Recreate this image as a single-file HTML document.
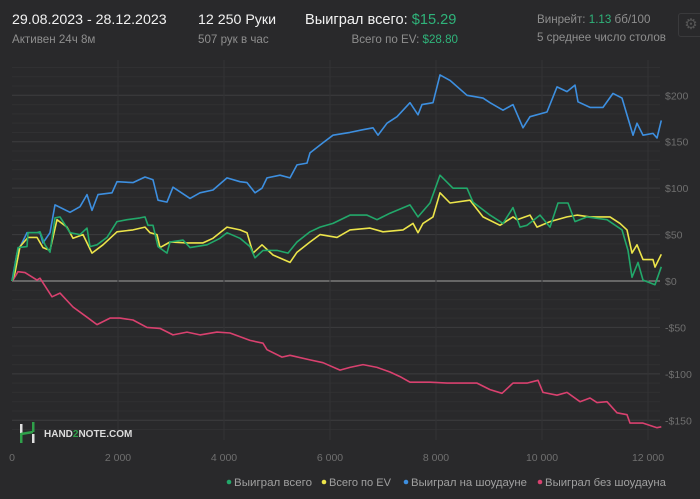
<!DOCTYPE html>
<html><head><meta charset="utf-8">
<style>
body{margin:0;background:#29292b;width:700px;height:499px;overflow:hidden;font-family:"Liberation Sans",sans-serif;}
.t{position:absolute;white-space:nowrap;}
.w{color:#f2f2f2;font-size:14.2px;}
.g{color:#8e8e8e;font-size:11.6px;}
.gr{color:#2fb37a;}
</style></head><body>
<div style="position:absolute;left:0;top:0;width:700px;height:58px;">
<div class="t w" style="left:12px;top:12px;">29.08.2023 - 28.12.2023</div>
<div class="t g" style="left:12px;top:33px;">Активен 24ч 8м</div>
<div class="t w" style="left:198px;top:12px;">12 250 Руки</div>
<div class="t g" style="left:198px;top:33px;">507 рук в час</div>
<div class="t w" style="left:305px;top:12px;font-size:14.6px;">Выиграл всего: <span class="gr">$15.29</span></div>
<div class="t g" style="right:242px;top:33px;">Всего по EV: <span class="gr">$28.80</span></div>
<div class="t g" style="left:537px;top:13px;">Винрейт: <span class="gr">1.13</span> бб/100</div>
<div class="t g" style="left:537px;top:31px;">5 среднее число столов</div>
<div style="position:absolute;left:678px;top:13px;width:24px;height:22px;border:1px solid #3a3a3c;border-radius:3px;color:#555;font-size:15px;text-align:center;line-height:22px;">⚙</div>
</div>
<svg id="chart" width="700" height="499" style="position:absolute;left:0;top:0;"></svg>
<script>
const hBlue=[0,94,283,528,585,717,811,1094,1283,1415,1509,1623,1887,1981,2283,2509,2660,2755,2925,3038,3358,3547,3792,4057,4302,4434,4585,4717,4811,5057,5245,5377,5566,5623,5868,6057,6377,6623,6811,6906,7075,7264,7509,7660,7736,7943,8075,8264,8585,8887,9019,9264,9453,9642,9774,10094,10283,10472,10623,10679,10906,11151,11340,11509,11660,11717,11792,11906,12094,12170,12250];
const vBlue=[0,30,52,52,41,52,82,74,80,93,76,93,95,107,106,112,109,87,85,101,89,95,98,111,107,106,95,100,111,114,111,125,127,138,149,157,160,163,165,157,170,177,192,179,190,192,222,216,200,197,192,184,190,165,177,182,209,204,211,193,187,187,202,197,168,157,170,157,159,154,173];
const hGreen=[0,19,113,283,302,472,528,623,717,811,906,1094,1283,1415,1472,1604,1792,1981,2170,2415,2509,2566,2660,2755,2925,2981,3226,3358,3679,3925,4057,4302,4491,4585,4736,5000,5208,5377,5623,5811,6057,6377,6698,6887,7132,7509,7660,7887,8075,8321,8585,8698,9019,9264,9453,9585,9717,9962,10151,10302,10491,10623,10849,11226,11509,11623,11698,11811,11906,12132,12250];
const vGreen=[0,4,36,37,52,52,53,39,31,68,69,52,50,57,37,39,47,64,66,68,69,60,60,37,30,42,44,36,39,46,52,46,37,25,33,33,30,42,53,58,62,71,71,66,73,82,69,84,114,100,100,85,71,62,79,58,60,71,58,84,84,64,69,66,55,33,4,20,1,-4,15.29];
const hYellow=[0,57,151,302,472,585,717,849,1038,1151,1340,1509,1717,1981,2283,2509,2604,2736,2792,2981,3302,3604,3792,4057,4302,4434,4547,4717,4925,5245,5377,5623,5811,6132,6377,6755,7000,7377,7566,7660,7755,7943,8075,8264,8642,8887,9208,9453,9528,9774,9906,10151,10472,10660,10906,11283,11472,11604,11698,11792,11906,12094,12132,12250];
const vYellow=[0,9,37,47,47,36,33,66,58,46,50,30,39,53,55,58,52,50,36,42,41,41,46,58,55,52,30,39,28,20,31,42,50,47,55,57,53,55,62,52,62,69,95,84,87,69,60,69,66,71,58,64,69,71,69,69,62,55,30,39,23,23,15,28.8];
const hRed=[0,19,113,245,472,528,755,906,1151,1415,1604,1849,2038,2283,2547,2792,3038,3302,3547,3868,4113,4491,4736,4811,5094,5245,5623,5868,6189,6377,6623,6887,7132,7321,7509,7887,8208,8509,8774,9019,9245,9453,9717,9925,10019,10283,10472,10717,10906,11038,11226,11415,11604,11660,11906,12170,12250];
const vRed=[0,1,10,9,1,3,-17,-13,-28,-39,-47,-40,-40,-42,-50,-51,-58,-55,-58,-55,-56,-64,-67,-74,-82,-80,-85,-88,-96,-93,-90,-93,-98,-103,-109,-109,-110,-110,-110,-117,-121,-110,-110,-107,-120,-123,-120,-130,-126,-131,-130,-142,-144,-153,-153,-158,-157];
const xTicks=[0,2000,4000,6000,8000,10000,12000];
const xTickLabels=["0","2 000","4 000","6 000","8 000","10 000","12 000"];
const yTicks=[-150,-100,-50,0,50,100,150,200];
const yTickLabels=["-$150","-$100","-$50","$0","$50","$100","$150","$200"];
const legendNames=["Выиграл всего","Всего по EV","Выиграл на шоудауне","Выиграл без шоудауна"];

const NS="http://www.w3.org/2000/svg";
const svg=document.getElementById('chart');
const X=h=>12+h*0.053;
const Y=v=>281-v*0.9285;
function mk(tag,attrs,parent){const e=document.createElementNS(NS,tag);for(const k in attrs)e.setAttribute(k,attrs[k]);(parent||svg).appendChild(e);return e;}
for(let v=-160;v<=230;v+=10){
  const major=v%50===0;
  const l=mk('line',{x1:12,x2:660,y1:Y(v),y2:Y(v),stroke:v===0?'#8a8a8a':(major?'#3d3d3f':'#303032'),'stroke-width':v===0?1.2:1});
  
  
}
xTicks.forEach((t,i)=>{
  if(i>0){const l=mk('line',{x1:X(t),x2:X(t),y1:60,y2:440,stroke:'#333335'});
  
  }
  const tx=mk('text',{x:X(t),y:461,fill:'#6f6f6f','font-size':10.5,'text-anchor':'middle','font-family':'Liberation Sans, sans-serif'});
  tx.textContent=xTickLabels[i];
  
  
});
yTicks.forEach((t,i)=>{
  const tx=mk('text',{x:665,y:Y(t)+4,fill:'#6f6f6f','font-size':10.5,'font-family':'Liberation Sans, sans-serif'});
  tx.textContent=yTickLabels[i];
  
  
});
function series(hs,vs,color,name){
  const d=hs.map((h,i)=>(i?'L':'M')+X(h).toFixed(1)+','+Y(vs[i]).toFixed(1)).join(' ');
  const p=mk('path',{d:d,fill:'none',stroke:color,'stroke-width':1.6,'stroke-linejoin':'round'});
  
  
}
series(hRed,vRed,'#d9416f','line-without-showdown');
series(hBlue,vBlue,'#3d8fe0','line-showdown');
series(hYellow,vYellow,'#ece44a','line-ev');
series(hGreen,vGreen,'#22a86a','line-total');
const colors=['#22a86a','#ece44a','#3d8fe0','#d9416f'];
const lx=[229,324,406,540];
const lw=[78,62,116,121];
legendNames.forEach((n,i)=>{
  const g=mk('g',{});
  
  
  mk('circle',{cx:lx[i],cy:482,r:2.3,fill:colors[i]},g);
  const t=mk('text',{x:lx[i]+5,y:486,fill:'#a0a0a0','font-size':11,textLength:lw[i],lengthAdjust:'spacingAndGlyphs','font-family':'Liberation Sans, sans-serif'},g);
  t.textContent=n;
});
const lg=mk('g',{});


mk('rect',{x:20,y:424,width:2.5,height:9,fill:'#e0e0e0'},lg);
mk('rect',{x:20,y:433,width:2.5,height:10,fill:'#2fa04a'},lg);
mk('path',{d:'M21,434 L33,432',stroke:'#2fa04a','stroke-width':2.5},lg);
mk('rect',{x:32,y:422,width:2.5,height:10,fill:'#2fa04a'},lg);
mk('rect',{x:32,y:434,width:2.5,height:9,fill:'#e0e0e0'},lg);
const lt=mk('text',{x:44,y:437,fill:'#dcdcdc','font-size':10,'font-weight':'bold','font-family':'Liberation Sans, sans-serif'},lg);
lt.innerHTML='HAND<tspan fill="#2fa04a">2</tspan>NOTE.COM';
</script>
</body></html>
